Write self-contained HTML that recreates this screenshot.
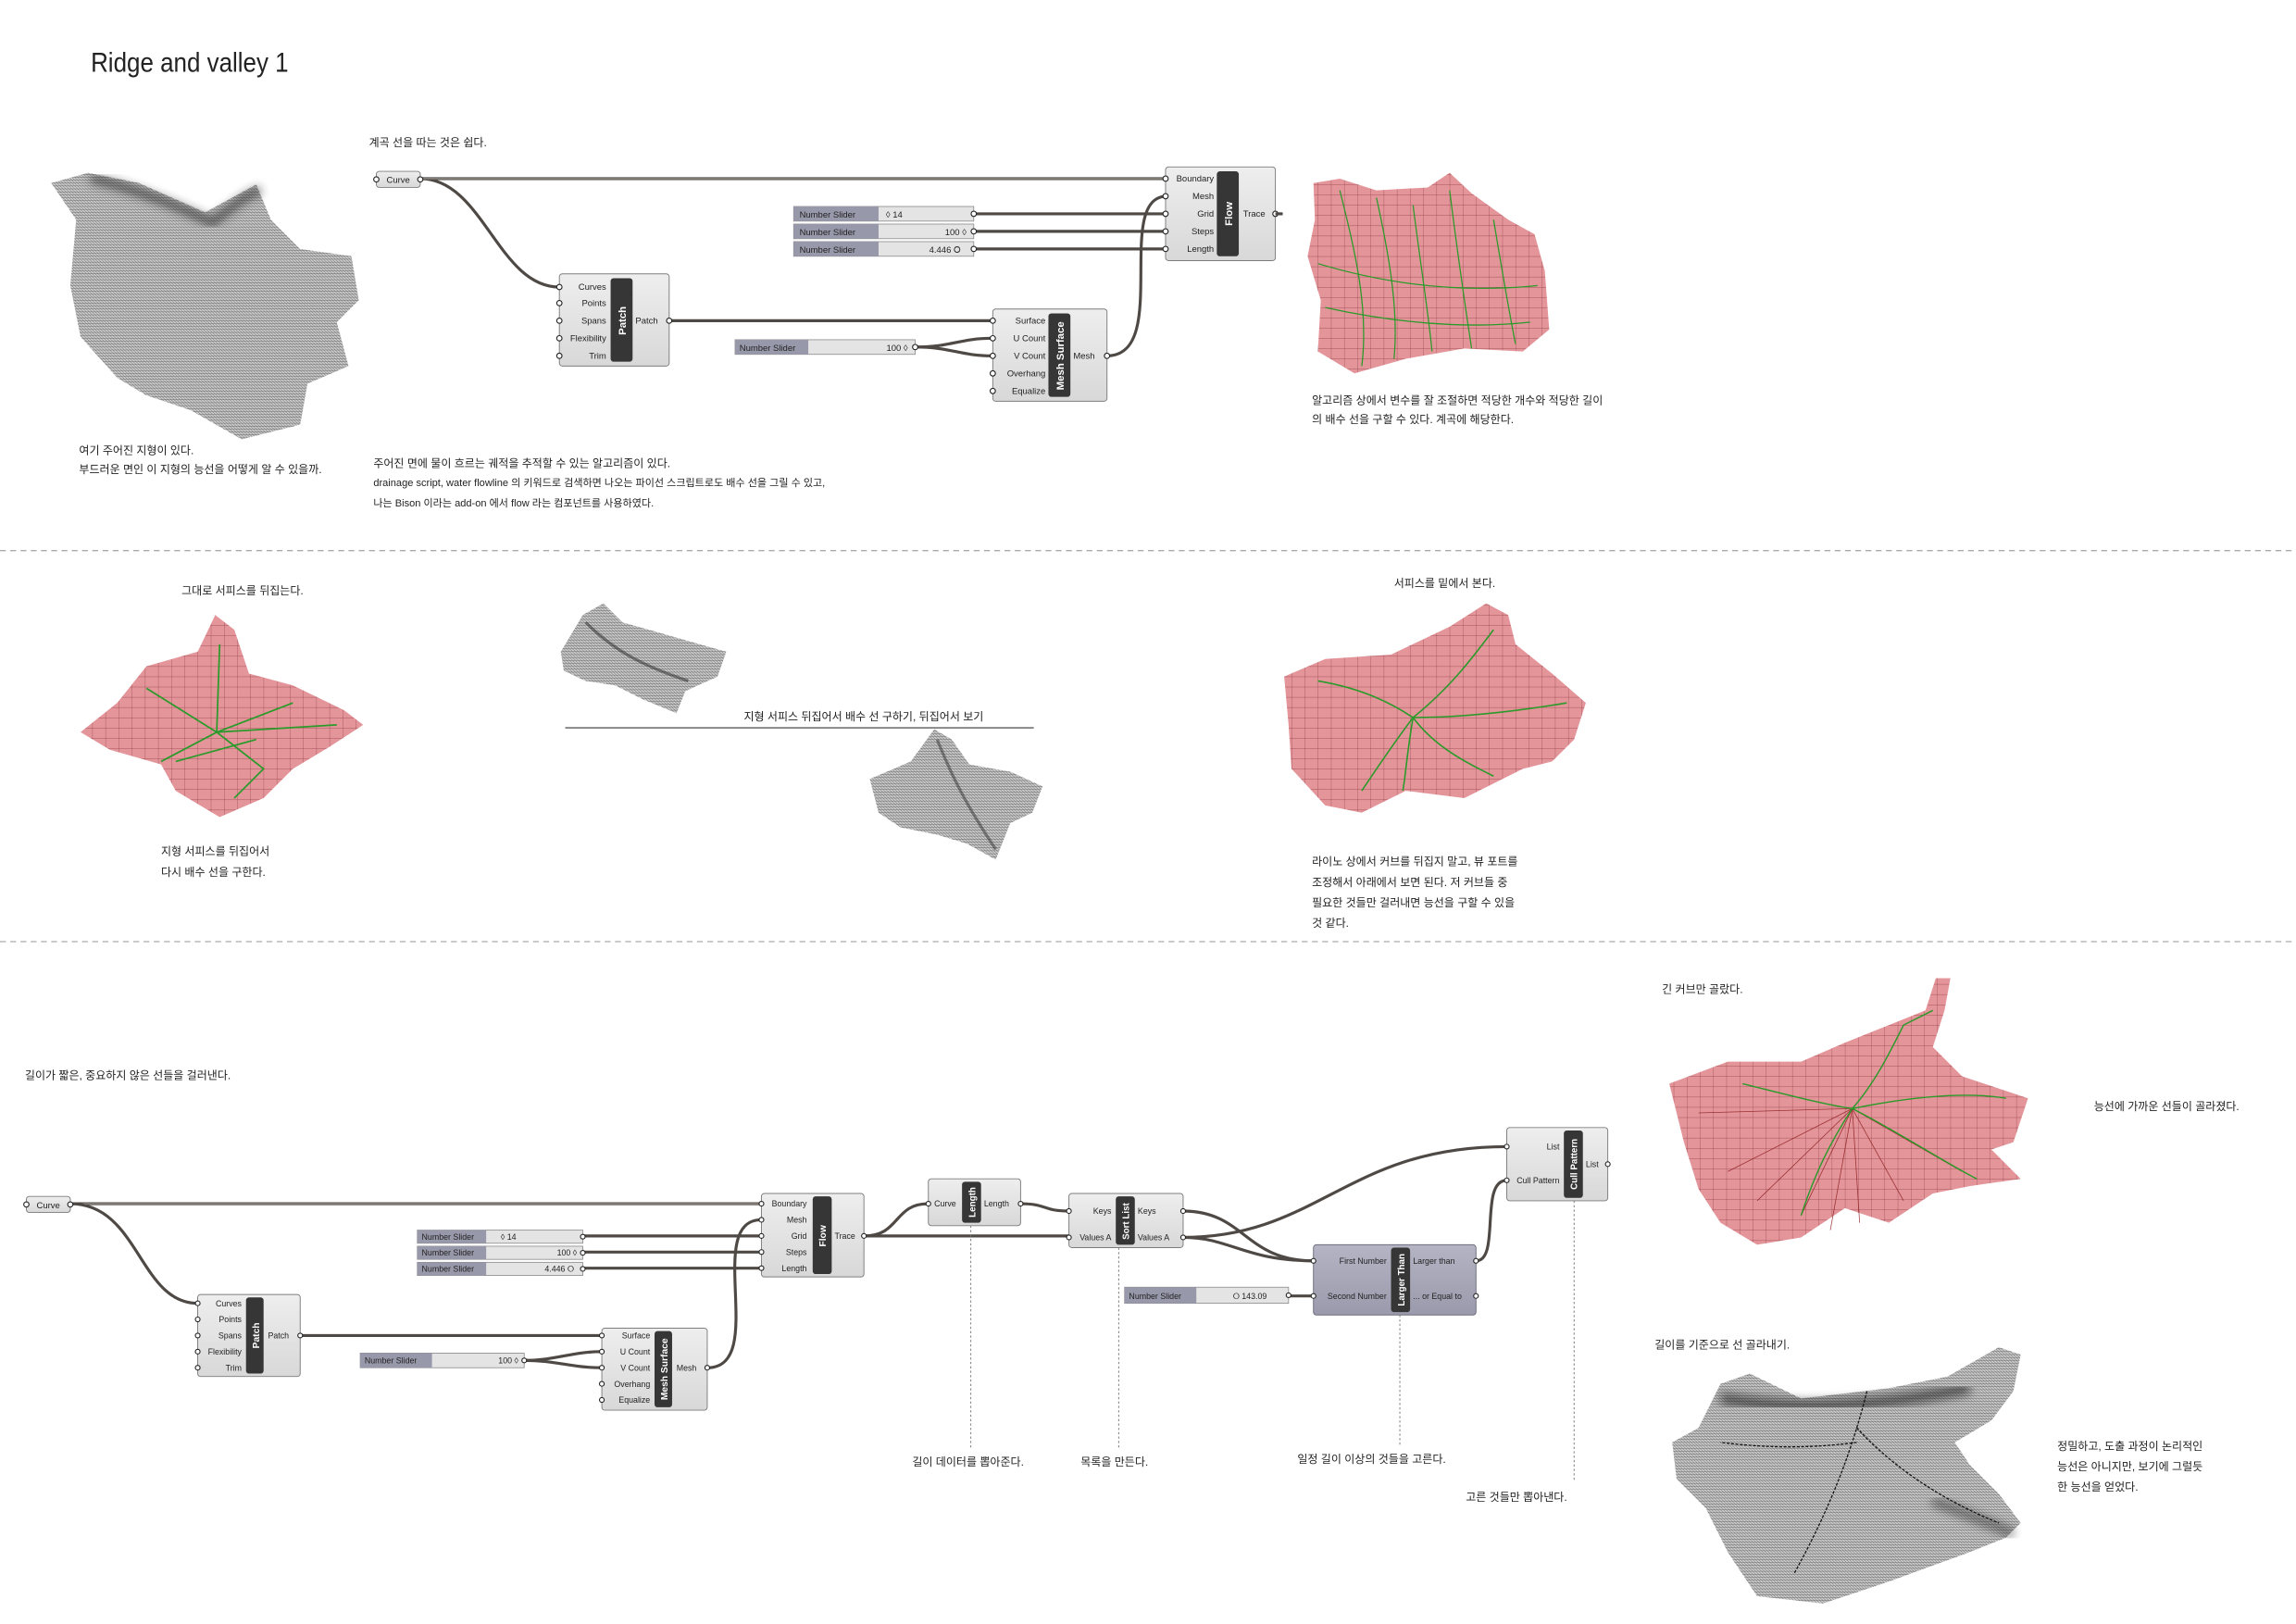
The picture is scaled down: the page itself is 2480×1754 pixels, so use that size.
<!DOCTYPE html>
<html><head><meta charset="utf-8"><style>
html,body{margin:0;padding:0;background:#fff}
svg{display:block}
text{font-family:"Liberation Sans","Noto Sans CJK KR",sans-serif;fill:#222}
.k{font-size:7.6px}
.p{font-size:6px;fill:#222}
.b{font-size:7.2px;font-weight:bold;fill:#fff}
.w{fill:none;stroke:#4e4944;stroke-width:2}
.wi{fill:none;stroke:#b9b4ae;stroke-width:.5}
.c{fill:url(#cg);stroke:#7d7d7d;stroke-width:.6}
.bar{fill:#363636}
.pt{fill:#fff;stroke:#222;stroke-width:.7}
.dl{stroke:#777;stroke-width:.6;stroke-dasharray:1.5 1.5}
</style></head><body>
<svg width="2480" height="1754" viewBox="0 0 1568 1109" xmlns="http://www.w3.org/2000/svg">
<defs>
<linearGradient id="cg" x1="0" y1="0" x2="0" y2="1"><stop offset="0" stop-color="#eeeeee"/><stop offset="1" stop-color="#d8d8d8"/></linearGradient>
<linearGradient id="lg" x1="0" y1="0" x2="0" y2="1"><stop offset="0" stop-color="#b4b4c4"/><stop offset="1" stop-color="#9a9aac"/></linearGradient>
<pattern id="mesh" width="2" height="2" patternUnits="userSpaceOnUse"><rect width="2" height="2" fill="#cfcfcf"/><path d="M0 0L2 2M0 1h2" stroke="#666" stroke-width=".35"/></pattern>
<pattern id="rg" width="9" height="7" patternUnits="userSpaceOnUse"><rect width="9" height="7" fill="#e4959a"/><path d="M0 0H9M0 0V7" stroke="#8a3a40" stroke-width=".4"/></pattern>
<filter id="bl"><feGaussianBlur stdDeviation="3"/></filter>
</defs>

<text x="62" y="49" style="font-size:19px" textLength="135" lengthAdjust="spacingAndGlyphs">Ridge and valley 1</text>

<!-- TOP SECTION -->
<polygon points="35,125 60,118 95,125 140,145 175,126 185,150 205,170 240,175 245,205 230,220 238,250 210,262 205,290 165,300 130,280 100,270 80,258 55,230 48,195 52,150" fill="url(#mesh)"/>
<path d="M62,122 C90,128 120,140 145,152 C160,140 170,132 178,130" fill="none" stroke="#222" stroke-width="6" opacity=".6" filter="url(#bl)"/>
<text class="k" x="54" y="310">여기 주어진 지형이 있다.</text>
<text class="k" x="54" y="323">부드러운 면인 이 지형의 능선을 어떻게 알 수 있을까.</text>
<text class="k" x="252" y="100">계곡 선을 따는 것은 쉽다.</text>

<!-- wires top -->
<path class="w" d="M287,122 L797,122"/>
<path class="w" d="M287,122 C330,122 340,196 382,196"/>
<path class="w" d="M665,146 L797,146"/><path class="w" d="M665,158 L797,158"/><path class="w" d="M665,170 L797,170"/>
<path class="w" d="M457,219 L678,219"/>
<path class="w" d="M625,237 C650,237 655,231 678,231"/><path class="w" d="M625,237 C650,237 655,243 678,243"/>
<path class="w" d="M756,243 C800,243 760,134 797,134"/>
<path class="wi" d="M287,122 L797,122"/>

<rect class="c" x="257" y="117" width="30" height="11" rx="2"/><text class="p" x="264" y="125">Curve</text>
<circle class="pt" cx="257" cy="122.5" r="1.8"/><circle class="pt" cx="287" cy="122.5" r="1.8"/>

<!-- Flow top -->
<rect class="c" x="796" y="114" width="75" height="64" rx="2"/>
<rect class="bar" x="831" y="117" width="15" height="58" rx="2"/>
<text class="b" transform="translate(841.5,146) rotate(-90)" text-anchor="middle">Flow</text>
<g class="p" text-anchor="end"><text x="829" y="124">Boundary</text><text x="829" y="136">Mesh</text><text x="829" y="148">Grid</text><text x="829" y="160">Steps</text><text x="829" y="172">Length</text></g>
<text class="p" x="849" y="148">Trace</text>
<g><circle class="pt" cx="796" cy="122" r="1.8"/><circle class="pt" cx="796" cy="134" r="1.8"/><circle class="pt" cx="796" cy="146" r="1.8"/><circle class="pt" cx="796" cy="158" r="1.8"/><circle class="pt" cx="796" cy="170" r="1.8"/><circle class="pt" cx="871" cy="146" r="1.8"/></g>
<path class="w" d="M871,146 h5"/>

<!-- sliders top -->
<g>
<rect x="542" y="141" width="123" height="10" fill="#e4e4e4" stroke="#888" stroke-width=".5"/><rect x="542" y="141" width="58" height="10" fill="#9898ab"/><text class="p" x="546" y="148.5">Number Slider</text><text class="p" x="605" y="148.5">◊ 14</text><circle class="pt" cx="665" cy="146" r="1.8"/>
<rect x="542" y="153" width="123" height="10" fill="#e4e4e4" stroke="#888" stroke-width=".5"/><rect x="542" y="153" width="58" height="10" fill="#9898ab"/><text class="p" x="546" y="160.5">Number Slider</text><text class="p" x="660" y="160.5" text-anchor="end">100 ◊</text><circle class="pt" cx="665" cy="158" r="1.8"/>
<rect x="542" y="165" width="123" height="10" fill="#e4e4e4" stroke="#888" stroke-width=".5"/><rect x="542" y="165" width="58" height="10" fill="#9898ab"/><text class="p" x="546" y="172.5">Number Slider</text><text class="p" x="656" y="172.5" text-anchor="end">4.446 ⭘</text><circle class="pt" cx="665" cy="170" r="1.8"/>
<rect x="502" y="232" width="123" height="10" fill="#e4e4e4" stroke="#888" stroke-width=".5"/><rect x="502" y="232" width="50" height="10" fill="#9898ab"/><text class="p" x="505" y="239.5">Number Slider</text><text class="p" x="620" y="239.5" text-anchor="end">100 ◊</text><circle class="pt" cx="625" cy="237" r="1.8"/>
</g>

<!-- Patch top -->
<rect class="c" x="382" y="187" width="75" height="63" rx="2"/>
<rect class="bar" x="417" y="190" width="15" height="57" rx="2"/>
<text class="b" transform="translate(427.5,219) rotate(-90)" text-anchor="middle">Patch</text>
<g class="p" text-anchor="end"><text x="414" y="198">Curves</text><text x="414" y="209">Points</text><text x="414" y="221">Spans</text><text x="414" y="233">Flexibility</text><text x="414" y="245">Trim</text></g>
<text class="p" x="434" y="221">Patch</text>
<circle class="pt" cx="382" cy="196" r="1.8"/><circle class="pt" cx="382" cy="207" r="1.8"/><circle class="pt" cx="382" cy="219" r="1.8"/><circle class="pt" cx="382" cy="231" r="1.8"/><circle class="pt" cx="382" cy="243" r="1.8"/><circle class="pt" cx="457" cy="219" r="1.8"/>

<!-- Mesh Surface top -->
<rect class="c" x="678" y="211" width="78" height="63" rx="2"/>
<rect class="bar" x="716" y="214" width="15" height="57" rx="2"/>
<text class="b" transform="translate(726.5,243) rotate(-90)" text-anchor="middle">Mesh Surface</text>
<g class="p" text-anchor="end"><text x="714" y="221">Surface</text><text x="714" y="233">U Count</text><text x="714" y="245">V Count</text><text x="714" y="257">Overhang</text><text x="714" y="269">Equalize</text></g>
<text class="p" x="733" y="245">Mesh</text>
<circle class="pt" cx="678" cy="219" r="1.8"/><circle class="pt" cx="678" cy="231" r="1.8"/><circle class="pt" cx="678" cy="243" r="1.8"/><circle class="pt" cx="678" cy="255" r="1.8"/><circle class="pt" cx="678" cy="267" r="1.8"/><circle class="pt" cx="756" cy="243" r="1.8"/>

<text class="k" x="255" y="319">주어진 면에 물이 흐르는 궤적을 추적할 수 있는 알고리즘이 있다.</text>
<text class="k" x="255" y="332" style="font-size:7px">drainage script, water flowline 의 키워드로 검색하면 나오는 파이선 스크립트로도  배수 선을 그릴 수 있고,</text>
<text class="k" x="255" y="346" style="font-size:7px">나는 Bison 이라는 add-on 에서 flow 라는 컴포넌트를 사용하였다.</text>

<!-- red terrain top -->
<polygon points="897,125 915,122 940,130 975,128 990,118 1005,132 1030,150 1048,160 1055,185 1058,225 1040,240 1000,238 960,245 925,255 900,240 902,205 893,175 898,150" fill="url(#rg)"/>
<g fill="none" stroke="#2a9a2a" stroke-width=".8">
<path d="M915,130 C925,170 935,210 930,250"/><path d="M940,135 C950,180 955,215 952,245"/><path d="M965,140 C970,180 975,210 978,240"/><path d="M990,130 C995,170 1000,205 1005,238"/><path d="M1020,150 C1025,180 1030,210 1035,235"/><path d="M900,180 C950,195 1000,200 1050,195"/><path d="M905,210 C950,220 1000,225 1045,220"/>
</g>
<text class="k" x="896" y="276">알고리즘 상에서 변수를 잘 조절하면 적당한 개수와 적당한 길이</text>
<text class="k" x="896" y="289">의  배수 선을 구할 수 있다.  계곡에 해당한다.</text>

<line x1="0" y1="376" x2="1568" y2="376" stroke="#aaa" stroke-width=".8" stroke-dasharray="4 3"/>
<line x1="0" y1="643" x2="1568" y2="643" stroke="#aaa" stroke-width=".8" stroke-dasharray="4 3"/>

<!-- MIDDLE -->
<text class="k" x="124" y="406">그대로 서피스를 뒤집는다.</text>
<polygon points="147,420 160,430 170,460 200,468 235,485 248,495 225,510 200,525 180,545 150,558 120,540 110,522 75,512 55,500 80,480 100,455 135,445" fill="url(#rg)"/>
<g fill="none" stroke="#2a9a2a" stroke-width="1.1"><path d="M150,440 L148,500 L110,520"/><path d="M148,500 L200,480"/><path d="M148,500 L180,525 L160,545"/><path d="M100,470 L148,500 L230,495"/><path d="M120,520 L175,505"/></g>
<text class="k" x="110" y="584">지형 서피스를 뒤집어서</text>
<text class="k" x="110" y="598">다시 배수 선을 구한다.</text>

<polygon points="383,445 398,420 412,412 425,425 450,432 478,440 496,445 490,462 468,472 462,487 440,478 420,468 400,465 385,458" fill="url(#mesh)"/>
<path d="M400,425 C420,445 440,455 470,465" fill="none" stroke="#222" stroke-width="2" opacity=".5"/>
<line x1="386" y1="497" x2="706" y2="497" stroke="#333" stroke-width=".7"/>
<text class="k" x="508" y="492">지형 서피스 뒤집어서 배수 선 구하기, 뒤집어서 보기</text>
<polygon points="594,532 622,520 638,498 650,505 662,522 690,527 712,537 705,555 690,562 680,587 660,576 640,570 615,565 600,555" fill="url(#mesh)"/>
<path d="M640,505 C650,530 660,550 680,580" fill="none" stroke="#222" stroke-width="2" opacity=".45"/>

<text class="k" x="952" y="401">서피스를 밑에서 본다.</text>
<polygon points="877,462 905,450 950,447 990,428 1015,412 1030,420 1035,440 1060,460 1083,480 1075,505 1060,520 1040,525 1000,545 960,540 930,555 905,550 882,525 880,495" fill="url(#rg)"/>
<g fill="none" stroke="#2a9a2a" stroke-width="1"><path d="M900,465 C930,470 950,480 965,490"/><path d="M965,490 C990,470 1005,450 1020,430"/><path d="M965,490 C980,510 1000,520 1020,530"/><path d="M965,490 C950,510 940,525 930,540"/><path d="M965,490 C1000,490 1040,485 1070,480"/><path d="M965,490 C960,520 960,530 958,540"/></g>
<text class="k" x="896" y="591">라이노 상에서 커브를 뒤집지 말고, 뷰 포트를</text>
<text class="k" x="896" y="605">조정해서 아래에서 보면 된다.  저 커브들 중</text>
<text class="k" x="896" y="619">필요한 것들만 걸러내면 능선을 구할 수 있을</text>
<text class="k" x="896" y="633">것 같다.</text>

<!-- BOTTOM -->
<text class="k" x="17" y="737">길이가 짧은, 중요하지 않은 선들을 걸러낸다.</text>

<path class="w" d="M48,822 L520,822"/><path class="wi" d="M48,822 L520,822"/>
<path class="w" d="M48,822 C95,822 95,890 135,890"/>
<path class="w" d="M398,844 L520,844"/><path class="w" d="M398,855 L520,855"/><path class="w" d="M398,866 L520,866"/>
<path class="w" d="M205,912 L411,912"/>
<path class="w" d="M358,929 C380,929 390,923 411,923"/><path class="w" d="M358,929 C380,929 390,934 411,934"/>
<path class="w" d="M483,934 C525,934 480,833 520,833"/>
<path class="w" d="M590,844 C615,844 610,822 634,822"/>
<path class="w" d="M590,844 L730,844"/>
<path class="w" d="M697,822 C715,822 712,827 730,827"/>
<path class="w" d="M808,827 C850,827 850,861 897,861"/>
<path class="w" d="M808,845 C840,845 850,861 897,861"/>
<path class="w" d="M808,845 C900,845 920,783 1029,783"/>
<path class="w" d="M880,885 L897,885"/>
<path class="w" d="M1008,861 C1025,861 1010,806 1029,806"/>

<rect class="c" x="18" y="817" width="30" height="11" rx="2"/><text class="p" x="25" y="825">Curve</text>
<circle class="pt" cx="18" cy="822.5" r="1.8"/><circle class="pt" cx="48" cy="822.5" r="1.8"/>

<!-- Flow bottom -->
<rect class="c" x="520" y="815" width="70" height="57" rx="2"/>
<rect class="bar" x="555" y="817" width="13" height="53" rx="2"/>
<text class="b" transform="translate(564,844) rotate(-90)" text-anchor="middle" style="font-size:6.5px">Flow</text>
<g class="p" text-anchor="end" style="font-size:5.6px"><text x="551" y="824">Boundary</text><text x="551" y="835">Mesh</text><text x="551" y="846">Grid</text><text x="551" y="857">Steps</text><text x="551" y="868">Length</text></g>
<text class="p" x="570" y="846" style="font-size:5.6px">Trace</text>
<circle class="pt" cx="520" cy="822" r="1.6"/><circle class="pt" cx="520" cy="833" r="1.6"/><circle class="pt" cx="520" cy="844" r="1.6"/><circle class="pt" cx="520" cy="855" r="1.6"/><circle class="pt" cx="520" cy="866" r="1.6"/><circle class="pt" cx="590" cy="844" r="1.6"/>

<g style="font-size:5.6px">
<rect x="285" y="840" width="113" height="9" fill="#e4e4e4" stroke="#888" stroke-width=".5"/><rect x="285" y="840" width="47" height="9" fill="#9898ab"/><text class="p" x="288" y="846.5" style="font-size:5.6px">Number Slider</text><text class="p" x="342" y="846.5" style="font-size:5.6px">◊ 14</text><circle class="pt" cx="398" cy="844.5" r="1.6"/>
<rect x="285" y="851" width="113" height="9" fill="#e4e4e4" stroke="#888" stroke-width=".5"/><rect x="285" y="851" width="47" height="9" fill="#9898ab"/><text class="p" x="288" y="857.5" style="font-size:5.6px">Number Slider</text><text class="p" x="394" y="857.5" text-anchor="end" style="font-size:5.6px">100 ◊</text><circle class="pt" cx="398" cy="855.5" r="1.6"/>
<rect x="285" y="862" width="113" height="9" fill="#e4e4e4" stroke="#888" stroke-width=".5"/><rect x="285" y="862" width="47" height="9" fill="#9898ab"/><text class="p" x="288" y="868.5" style="font-size:5.6px">Number Slider</text><text class="p" x="392" y="868.5" text-anchor="end" style="font-size:5.6px">4.446 ⭘</text><circle class="pt" cx="398" cy="866.5" r="1.6"/>
<rect x="246" y="924" width="112" height="10" fill="#e4e4e4" stroke="#888" stroke-width=".5"/><rect x="246" y="924" width="49" height="10" fill="#9898ab"/><text class="p" x="249" y="931" style="font-size:5.6px">Number Slider</text><text class="p" x="354" y="931" text-anchor="end" style="font-size:5.6px">100 ◊</text><circle class="pt" cx="358" cy="929" r="1.6"/>
<rect x="768" y="879" width="112" height="11" fill="#e4e4e4" stroke="#888" stroke-width=".5"/><rect x="768" y="879" width="49" height="11" fill="#9898ab"/><text class="p" x="771" y="887" style="font-size:5.6px">Number Slider</text><text class="p" x="842" y="887" style="font-size:5.6px">⭘ 143.09</text><circle class="pt" cx="880" cy="884.5" r="1.6"/>
</g>

<!-- Patch bottom -->
<rect class="c" x="135" y="884" width="70" height="56" rx="2"/>
<rect class="bar" x="168" y="886" width="12" height="52" rx="2"/>
<text class="b" transform="translate(177,912) rotate(-90)" text-anchor="middle" style="font-size:6.5px">Patch</text>
<g class="p" text-anchor="end" style="font-size:5.6px"><text x="165" y="892">Curves</text><text x="165" y="903">Points</text><text x="165" y="914">Spans</text><text x="165" y="925">Flexibility</text><text x="165" y="936">Trim</text></g>
<text class="p" x="183" y="914" style="font-size:5.6px">Patch</text>
<circle class="pt" cx="135" cy="890" r="1.6"/><circle class="pt" cx="135" cy="901" r="1.6"/><circle class="pt" cx="135" cy="912" r="1.6"/><circle class="pt" cx="135" cy="923" r="1.6"/><circle class="pt" cx="135" cy="934" r="1.6"/><circle class="pt" cx="205" cy="912" r="1.6"/>

<!-- Mesh Surface bottom -->
<rect class="c" x="411" y="907" width="72" height="56" rx="2"/>
<rect class="bar" x="447" y="909" width="12" height="52" rx="2"/>
<text class="b" transform="translate(456,935) rotate(-90)" text-anchor="middle" style="font-size:6.5px">Mesh Surface</text>
<g class="p" text-anchor="end" style="font-size:5.6px"><text x="444" y="914">Surface</text><text x="444" y="925">U Count</text><text x="444" y="936">V Count</text><text x="444" y="947">Overhang</text><text x="444" y="958">Equalize</text></g>
<text class="p" x="462" y="936" style="font-size:5.6px">Mesh</text>
<circle class="pt" cx="411" cy="912" r="1.6"/><circle class="pt" cx="411" cy="923" r="1.6"/><circle class="pt" cx="411" cy="934" r="1.6"/><circle class="pt" cx="411" cy="945" r="1.6"/><circle class="pt" cx="411" cy="956" r="1.6"/><circle class="pt" cx="483" cy="934" r="1.6"/>

<!-- Length -->
<rect class="c" x="634" y="805" width="63" height="32" rx="2"/>
<rect class="bar" x="657" y="807" width="13" height="28" rx="2"/>
<text class="b" transform="translate(666,821) rotate(-90)" text-anchor="middle" style="font-size:6.2px">Length</text>
<text class="p" x="638" y="824" style="font-size:5.6px">Curve</text><text class="p" x="672" y="824" style="font-size:5.6px">Length</text>
<circle class="pt" cx="634" cy="822" r="1.6"/><circle class="pt" cx="697" cy="822" r="1.6"/>

<!-- Sort List -->
<rect class="c" x="730" y="815" width="78" height="37" rx="2"/>
<rect class="bar" x="762" y="817" width="13" height="33" rx="2"/>
<text class="b" transform="translate(771,834) rotate(-90)" text-anchor="middle" style="font-size:6.2px">Sort List</text>
<g class="p" style="font-size:5.6px"><text x="759" y="829" text-anchor="end">Keys</text><text x="759" y="847" text-anchor="end">Values A</text><text x="777" y="829">Keys</text><text x="777" y="847">Values A</text></g>
<circle class="pt" cx="730" cy="827" r="1.6"/><circle class="pt" cx="730" cy="845" r="1.6"/><circle class="pt" cx="808" cy="827" r="1.6"/><circle class="pt" cx="808" cy="845" r="1.6"/>

<!-- Larger Than -->
<rect x="897" y="850" width="111" height="48" rx="2" fill="url(#lg)" stroke="#6d6d7d" stroke-width=".6"/>
<rect class="bar" x="950" y="852" width="13" height="44" rx="2"/>
<text class="b" transform="translate(959,874) rotate(-90)" text-anchor="middle" style="font-size:6.2px">Larger Than</text>
<g class="p" style="font-size:5.6px"><text x="947" y="863" text-anchor="end">First Number</text><text x="947" y="887" text-anchor="end">Second Number</text><text x="965" y="863">Larger than</text><text x="965" y="887">... or Equal to</text></g>
<circle class="pt" cx="897" cy="861" r="1.6"/><circle class="pt" cx="897" cy="885" r="1.6"/><circle class="pt" cx="1008" cy="861" r="1.6"/><circle class="pt" cx="1008" cy="885" r="1.6"/>

<!-- Cull Pattern -->
<rect class="c" x="1029" y="770" width="69" height="50" rx="2"/>
<rect class="bar" x="1068" y="772" width="13" height="46" rx="2"/>
<text class="b" transform="translate(1077,795) rotate(-90)" text-anchor="middle" style="font-size:6.2px">Cull Pattern</text>
<g class="p" style="font-size:5.6px"><text x="1065" y="785" text-anchor="end">List</text><text x="1065" y="808" text-anchor="end">Cull Pattern</text><text x="1083" y="797">List</text></g>
<circle class="pt" cx="1029" cy="783" r="1.6"/><circle class="pt" cx="1029" cy="806" r="1.6"/><circle class="pt" cx="1098" cy="795" r="1.6"/>

<line class="dl" x1="663" y1="837" x2="663" y2="990"/>
<line class="dl" x1="764" y1="852" x2="764" y2="990"/>
<line class="dl" x1="956" y1="898" x2="956" y2="988"/>
<line class="dl" x1="1075" y1="820" x2="1075" y2="1012"/>
<text class="k" x="623" y="1001">길이 데이터를 뽑아준다.</text>
<text class="k" x="738" y="1001">목록을 만든다.</text>
<text class="k" x="886" y="999">일정 길이 이상의 것들을 고른다.</text>
<text class="k" x="1001" y="1025">고른 것들만 뽑아낸다.</text>

<!-- right bottom images -->
<text class="k" x="1135" y="678">긴 커브만 골랐다.</text>
<polygon points="1140,740 1180,725 1230,725 1260,712 1290,700 1315,690 1322,668 1332,668 1328,690 1320,715 1340,735 1370,745 1385,750 1375,780 1360,785 1380,805 1345,810 1320,815 1290,835 1260,825 1230,845 1200,850 1175,835 1160,812 1150,780" fill="url(#rg)"/>
<g fill="none" stroke="#8a1a1a" stroke-width=".5" opacity=".8"><path d="M1265,757 L1200,820"/><path d="M1265,757 L1230,830"/><path d="M1265,757 L1270,835"/><path d="M1265,757 L1300,820"/><path d="M1265,757 L1340,800"/><path d="M1265,757 L1160,760"/><path d="M1265,757 L1180,800"/><path d="M1265,757 L1250,840"/></g>
<g fill="none" stroke="#2a9a2a" stroke-width=".9"><path d="M1190,740 C1230,750 1250,755 1265,757"/><path d="M1265,757 C1280,740 1290,720 1300,700 L1320,690"/><path d="M1265,757 C1250,780 1240,800 1230,830"/><path d="M1265,757 C1300,775 1330,795 1350,805"/><path d="M1265,757 C1300,750 1340,745 1370,750"/></g>
<text class="k" x="1430" y="758">능선에 가까운 선들이 골라졌다.</text>

<text class="k" x="1130" y="921">길이를 기준으로 선 골라내기.</text>
<polygon points="1160,975 1175,945 1195,938 1230,955 1290,948 1330,940 1365,920 1380,925 1375,950 1360,970 1335,985 1345,1000 1365,1020 1380,1040 1370,1050 1345,1060 1290,1080 1245,1095 1200,1090 1180,1060 1165,1030 1145,1010 1142,985" fill="url(#mesh)"/>
<path d="M1175,955 C1210,960 1260,965 1345,948" fill="none" stroke="#111" stroke-width="8" opacity=".55" filter="url(#bl)"/>
<path d="M1320,1025 C1345,1035 1365,1042 1375,1048" fill="none" stroke="#111" stroke-width="6" opacity=".45" filter="url(#bl)"/>
<g fill="none" stroke="#111" stroke-width=".8" stroke-dasharray="2 1"><path d="M1275,950 C1265,990 1250,1030 1225,1075"/><path d="M1268,985 C1230,990 1200,988 1175,985"/><path d="M1268,975 C1300,1010 1340,1030 1365,1040"/></g>
<text class="k" x="1405" y="990">정밀하고, 도출 과정이 논리적인</text>
<text class="k" x="1405" y="1004">능선은 아니지만,  보기에 그럴듯</text>
<text class="k" x="1405" y="1018">한 능선을 얻었다.</text>
</svg>
</body></html>
